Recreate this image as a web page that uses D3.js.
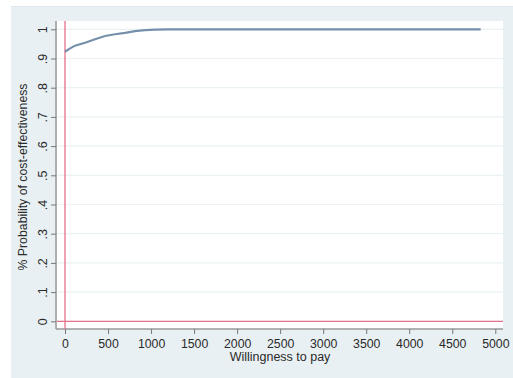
<!DOCTYPE html>
<html><head><meta charset="utf-8">
<script src="https://cdn.jsdelivr.net/npm/d3@7"></script>
<style>body{margin:0;background:#fff}svg{display:block}text{font-family:"Liberation Sans",Arial,sans-serif}</style>
</head><body>
<svg id="c" width="513" height="378"></svg>
<script>
const wtp   = [0, 50, 116, 233, 349, 465, 581, 698, 814, 930, 1047, 1200, 1500, 2000, 3000, 4000, 4830];
const prob  = [0.923, 0.933, 0.944, 0.954, 0.966, 0.977, 0.983, 0.988, 0.994, 0.997, 0.999, 1.0, 1.0, 1.0, 1.0, 1.0, 1.0];
const xTicks = [0, 500, 1000, 1500, 2000, 2500, 3000, 3500, 4000, 4500, 5000];
const yTicks = [0, 0.1, 0.2, 0.3, 0.4, 0.5, 0.6, 0.7, 0.8, 0.9, 1];
const yTickLabels = ["0", ".1", ".2", ".3", ".4", ".5", ".6", ".7", ".8", ".9", "1"];

const svg = d3.select("#c");
svg.append("rect").attr("x",11).attr("y",6).attr("width",502).attr("height",372).attr("fill","#e9f0f3");
svg.append("line").attr("x1",11).attr("x2",513).attr("y1",6.5).attr("y2",6.5).attr("stroke","#dde6ea");
const plot = {l:57, r:503, t:21, b:329};
svg.append("rect").attr("x",plot.l).attr("y",plot.t).attr("width",plot.r-plot.l).attr("height",plot.b-plot.t).attr("fill","#fff");

const x = d3.scaleLinear().domain([0,5000]).range([65,495.3]);
const y = d3.scaleLinear().domain([0,1]).range([321.3,29.3]);

// gridlines
svg.append("g").selectAll("line").data(yTicks).join("line")
  .attr("x1",plot.l).attr("x2",plot.r).attr("y1",d=>y(d)).attr("y2",d=>y(d))
  .attr("stroke","#eaf2f4").attr("stroke-width",1.2);

// axes
const yAxis = d3.axisLeft(y).tickValues(yTicks).tickFormat((d,i)=>yTickLabels[i]).tickSize(5).tickPadding(4);
const gy = svg.append("g").attr("transform",`translate(${plot.l-1},0)`).call(yAxis);
gy.select(".domain").attr("d",`M0,${plot.t}V${plot.b}`).attr("stroke","#999").attr("stroke-width",1.5);
gy.selectAll(".tick line").attr("stroke","#777");
gy.selectAll(".tick text").attr("font-size",12.5).attr("fill","#2a2a2a")
  .attr("transform","rotate(-90)").attr("x",0).attr("y",-13).attr("dy","0").attr("text-anchor","middle")
  .attr("dominant-baseline","central");

const xAxis = d3.axisBottom(x).tickValues(xTicks).tickFormat(d3.format("d")).tickSize(5).tickPadding(5);
const gx = svg.append("g").attr("transform",`translate(0,${plot.b})`).call(xAxis);
gx.select(".domain").attr("d",`M${plot.l-1},0H${plot.r}`).attr("stroke","#999").attr("stroke-width",1.5);
gx.selectAll(".tick line").attr("stroke","#777");
gx.selectAll(".tick text").attr("font-size",12.3).attr("fill","#2a2a2a");

// reference lines
svg.append("line").attr("x1",x(0)).attr("x2",x(0)).attr("y1",plot.t).attr("y2",plot.b)
  .attr("stroke","#e5718a").attr("stroke-width",1.3);
svg.append("line").attr("x1",plot.l).attr("x2",plot.r).attr("y1",y(0)).attr("y2",y(0))
  .attr("stroke","#e5718a").attr("stroke-width",1.3);

// curve
svg.append("path").datum(wtp.map((d,i)=>[d,prob[i]]))
  .attr("d", d3.line().x(d=>x(d[0])).y(d=>y(d[1])))
  .attr("fill","none").attr("stroke","#7690ac").attr("stroke-width",2.2);

// labels
svg.append("text").attr("x",280).attr("y",361).attr("text-anchor","middle").attr("font-size",12.5).attr("fill","#2a2a2a").text("Willingness to pay");
svg.append("text").attr("transform","translate(27,177) rotate(-90)").attr("text-anchor","middle").attr("font-size",12.3).attr("fill","#2a2a2a").text("% Probability of cost-effectiveness");
</script>
</body></html>
